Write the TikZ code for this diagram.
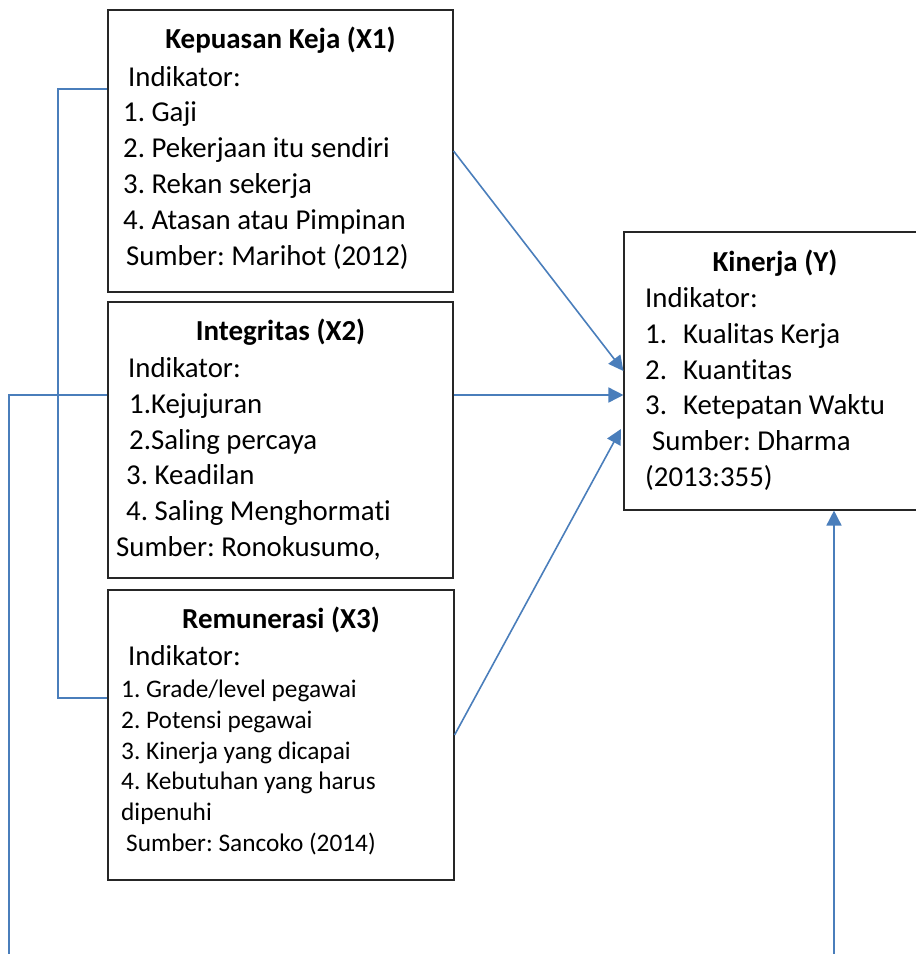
\documentclass[tikz,border=0pt]{standalone}
\usepackage{fontspec}
\setmainfont{Carlito}[Ligatures=NoCommon]
\usetikzlibrary{arrows.meta}
\definecolor{linkblue}{RGB}{74,126,187}
\frenchspacing

\begin{document}
\begin{tikzpicture}[x=1pt,y=-1pt,
  box/.style={draw=black!85,line width=1.1pt,inner sep=0pt},
  link/.style={draw=linkblue,line width=1.6pt},
  arrow/.style={link,-{Triangle[length=15pt,width=15pt]}},
  head/.style={inner sep=0pt,font=\fontsize{29}{33}\selectfont\bfseries},
  item/.style={anchor=base west,inner sep=0pt,font=\fontsize{28.8}{33}\selectfont},
  small/.style={item,font=\fontsize{25.3}{30}\selectfont}]
\path[use as bounding box,clip] (0,0) rectangle (916,954);

%%%%%%%%%%%%%%%%%%%Draw The Boxes%%%%%%%%%%%%%%%%%%%
\node[box,minimum width=345pt,minimum height=282pt] (x1) at (280.5,151) {};
\node[box,minimum width=345pt,minimum height=276pt] (x2) at (280.5,440) {};
\node[box,minimum width=346pt,minimum height=290pt] (x3) at (281,735) {};
\node[box,minimum width=294pt,minimum height=278pt] (y) at (771,371) {};

%%%%%%%%%%%%%%%%%%%Box X1: Kepuasan Kerja%%%%%%%%%%%%%%%%%%%
\node[head] (x1h) at (280.5,40) {Kepuasan Keja (X1)};
\foreach \xx/\yy/\txt [count=\i] in {128/86/Indikator:, 123/121.8/1. Gaji,
    123/157.6/2. Pekerjaan itu sendiri, 123/193.4/3. Rekan sekerja,
    123/229.2/4. Atasan atau Pimpinan, 126/265/Sumber: Marihot (2012)}
  \node[item] (x1l\i) at (\xx,\yy) {\txt};

%%%%%%%%%%%%%%%%%%%Box X2: Integritas%%%%%%%%%%%%%%%%%%%
\node[head] (x2h) at (280.5,332) {Integritas (X2)};
\foreach \xx/\yy/\txt [count=\i] in {128/377.5/Indikator:, 129/413.3/1.Kejujuran,
    129/449.1/2.Saling percaya, 126/484.9/3. Keadilan,
    126/520.7/4. Saling Menghormati, 116/556.5/{Sumber: Ronokusumo,}}
  \node[item] (x2l\i) at (\xx,\yy) {\txt};

%%%%%%%%%%%%%%%%%%%Box X3: Remunerasi%%%%%%%%%%%%%%%%%%%
\node[head] (x3h) at (281,620) {Remunerasi (X3)};
\node[item] (x3l0) at (128,665.5) {Indikator:};
\foreach \xx/\yy/\txt [count=\i] in {121/697.5/{1. Grade/level pegawai},
    121/728.3/2. Potensi pegawai, 121/759/3. Kinerja yang dicapai,
    121/789.8/4. Kebutuhan yang harus, 121/820.6/dipenuhi,
    126/851.4/Sumber: Sancoko (2014)}
  \node[small] (x3l\i) at (\xx,\yy) {\txt};

%%%%%%%%%%%%%%%%%%%Box Y: Kinerja%%%%%%%%%%%%%%%%%%%
\node[head] (yh) at (775,263) {Kinerja (Y)};
\foreach \xx/\yy/\txt [count=\i] in {645/307.5/Indikator:,
    645/343.3/\makebox[38pt][l]{1.}Kualitas Kerja,
    645/379.1/\makebox[38pt][l]{2.}Kuantitas,
    645/414.9/\makebox[38pt][l]{3.}Ketepatan Waktu,
    652/450.7/Sumber: Dharma, 645/486.5/(2013:355)}
  \node[item] (yl\i) at (\xx,\yy) {\txt};

%%%%%%%%%%%%%%%%%%%Joints of The Side Lines%%%%%%%%%%%%%%%%%%%
\coordinate (j1) at (58,89);
\coordinate (j3) at (58,698);
\coordinate (k2) at (9,395);
\coordinate (kb) at (9,960);
\coordinate (yin3) at (621,429);
\coordinate (yb) at (834,960);

%%%%%%%%%%%%%%%%%%%Draw The Side Lines%%%%%%%%%%%%%%%%%%%
\draw[link] (x1.west |- j1) -- (j1) -- (j3) -- (x3.west |- j3);
\draw[link] (x2.west |- k2) -- (k2) -- (kb);

%%%%%%%%%%%%%%%%%%%Draw The Arrows To Y%%%%%%%%%%%%%%%%%%%
\draw[arrow] (x1.east) -- (y.west);
\draw[arrow] (x2.east |- k2) -- (y.west |- k2);
\draw[arrow] (x3.east) -- (yin3);
\draw[arrow] (yb) -- (y.south -| yb);

\end{tikzpicture}
\end{document}
